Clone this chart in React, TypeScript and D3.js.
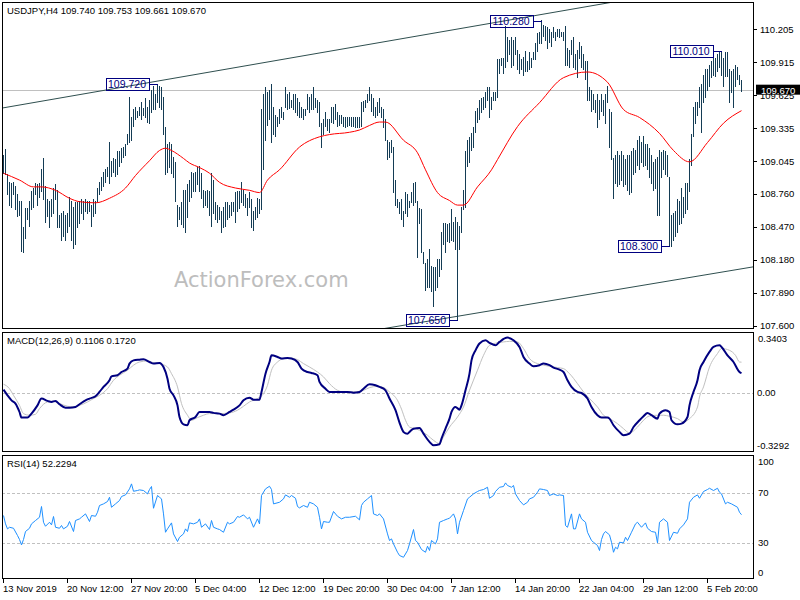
import React from "react";
import * as d3 from "d3";

const headerText = "USDJPY,H4  109.740 109.753 109.661 109.670";
const macdTitle = "MACD(12,26,9) 0.1106 0.1720";
const rsiTitle = "RSI(14) 52.2294";
const watermark = "ActionForex.com";

// H4 bars, oldest first (high / low)
const barHigh = [
  109.10,109.15,108.93,108.86,108.85,108.86,108.82,108.75,108.69,108.69,
  108.46,108.63,108.63,108.69,108.78,108.81,108.85,108.84,108.85,108.97,
  109.07,108.82,108.71,108.69,108.71,108.81,108.84,108.79,108.57,108.59,
  108.60,108.57,108.59,108.73,108.69,108.64,108.68,108.68,108.69,108.71,
  108.69,108.71,108.69,108.69,108.66,108.71,108.69,108.81,108.86,108.90,
  108.95,108.97,108.99,109.21,109.04,109.07,109.06,109.13,109.13,109.16,
  109.17,109.19,109.28,109.61,109.43,109.50,109.52,109.48,109.52,109.56,
  109.51,109.60,109.52,109.58,109.67,109.70,109.63,109.72,109.70,109.69,
  109.61,109.34,109.19,109.21,109.19,109.08,109.03,108.66,108.64,108.68,
  108.79,108.79,108.84,108.88,108.95,108.94,108.95,108.99,109.00,108.94,
  108.79,108.78,108.79,108.78,108.94,108.88,108.68,108.66,108.64,108.60,
  108.64,108.68,108.68,108.66,108.68,108.68,108.77,108.78,108.78,108.86,
  108.79,108.75,108.72,108.77,108.71,108.60,108.64,108.72,108.71,109.50,
  109.63,109.69,109.65,109.67,109.72,109.52,109.45,109.43,109.50,109.52,
  109.47,109.69,109.63,109.65,109.58,109.63,109.63,109.60,109.56,109.52,
  109.50,109.50,109.63,109.61,109.63,109.69,109.60,109.58,109.56,109.38,
  109.41,109.47,109.41,109.41,109.52,109.52,109.54,109.47,109.45,109.45,
  109.43,109.43,109.43,109.43,109.43,109.43,109.43,109.43,109.43,109.56,
  109.57,109.58,109.63,109.69,109.63,109.60,109.52,109.56,109.60,109.52,
  109.50,109.41,109.23,109.21,109.23,109.17,108.88,108.71,108.68,108.71,
  108.60,108.77,108.75,108.69,108.77,108.85,108.86,108.69,108.63,108.62,
  108.24,108.15,108.18,108.27,108.12,108.11,108.11,108.18,108.18,108.42,
  108.50,108.50,108.49,108.50,108.62,108.51,108.55,108.51,108.47,108.64,
  108.79,109.13,109.23,109.25,109.29,109.34,109.48,109.51,109.58,109.60,
  109.61,109.65,109.69,109.69,109.61,109.65,109.65,109.94,109.94,109.95,
  109.95,110.23,110.13,110.11,110.13,110.11,110.13,110.02,109.98,109.94,
  109.96,110.01,109.92,110.00,109.95,110.00,110.08,110.17,110.18,110.28,
  110.24,110.23,110.22,110.20,110.18,110.22,110.18,110.20,110.20,110.18,
  110.18,110.23,110.04,110.02,110.11,110.13,109.98,110.02,110.09,110.05,
  109.98,109.92,109.92,109.69,109.67,109.63,109.58,109.63,109.58,109.63,
  109.58,109.63,109.70,109.50,109.47,109.07,109.10,109.13,109.10,109.13,
  109.10,109.06,109.10,109.10,109.13,109.16,109.14,109.23,109.26,109.21,
  109.26,109.19,109.19,109.16,109.10,109.03,109.06,109.08,109.14,109.12,
  109.14,109.13,109.10,108.90,108.57,108.59,108.60,108.71,108.69,108.81,
  108.73,108.85,108.85,109.06,109.28,109.52,109.56,109.56,109.69,109.72,
  109.80,109.85,109.85,109.89,109.92,110.00,109.95,109.98,110.00,110.01,
  109.95,110.00,110.00,109.85,109.83,109.85,109.89,109.87,109.80,109.753,
];
const barLow = [
  108.94,108.93,108.75,108.66,108.64,108.75,108.62,108.56,108.57,108.25,
  108.24,108.37,108.53,108.47,108.62,108.64,108.75,108.66,108.73,108.78,
  108.71,108.51,108.56,108.46,108.56,108.59,108.71,108.46,108.46,108.35,
  108.38,108.35,108.42,108.47,108.35,108.28,108.31,108.46,108.50,108.59,
  108.53,108.60,108.59,108.60,108.47,108.56,108.59,108.69,108.75,108.79,
  108.82,108.86,108.91,108.85,108.91,108.95,108.91,108.93,109.00,109.03,
  109.08,109.10,109.19,109.21,109.23,109.35,109.41,109.43,109.45,109.41,
  109.45,109.43,109.39,109.38,109.47,109.50,109.50,109.56,109.52,109.50,
  109.28,108.93,108.95,108.99,108.94,108.90,108.69,108.47,108.53,108.49,
  108.46,108.42,108.55,108.69,108.73,108.78,108.78,108.84,108.78,108.72,
  108.64,108.66,108.64,108.57,108.47,108.59,108.53,108.51,108.53,108.42,
  108.46,108.47,108.53,108.55,108.57,108.60,108.51,108.60,108.63,108.68,
  108.66,108.64,108.57,108.64,108.46,108.44,108.53,108.55,108.59,108.62,
  108.97,109.23,109.36,109.41,109.21,109.28,109.26,109.35,109.38,109.43,
  109.41,109.52,109.50,109.51,109.52,109.50,109.47,109.45,109.43,109.43,
  109.41,109.45,109.50,109.47,109.50,109.50,109.52,109.47,109.35,109.17,
  109.28,109.35,109.32,109.30,109.39,109.38,109.41,109.35,109.36,109.38,
  109.35,109.34,109.35,109.36,109.35,109.35,109.34,109.34,109.34,109.35,
  109.48,109.52,109.56,109.58,109.48,109.45,109.43,109.45,109.47,109.43,
  109.34,109.23,109.06,109.08,109.12,108.77,108.66,108.64,108.59,108.53,
  108.47,108.59,108.56,108.64,108.68,108.66,108.68,108.20,108.50,108.24,
  108.15,107.91,107.94,107.94,107.90,107.77,107.91,107.94,108.03,108.09,
  108.31,108.24,108.34,108.33,108.35,108.34,108.27,107.65,108.27,108.42,
  108.62,108.64,109.00,109.03,109.14,109.17,109.30,109.39,109.41,109.47,
  109.50,109.52,109.58,109.43,109.50,109.58,109.58,109.61,109.82,109.89,
  109.82,109.87,109.92,109.98,109.87,109.89,109.98,109.85,109.82,109.85,
  109.80,109.83,109.83,109.85,109.87,109.94,109.94,110.01,110.08,110.08,
  110.14,110.11,110.04,110.09,110.05,110.13,110.11,110.14,110.13,110.14,
  110.11,109.89,109.89,109.87,109.98,109.87,109.85,109.78,109.95,109.87,
  109.85,109.76,109.58,109.58,109.48,109.50,109.47,109.34,109.41,109.48,
  109.45,109.38,109.56,109.17,109.06,108.72,108.85,108.82,108.84,108.88,
  108.82,108.84,108.79,108.75,108.77,108.93,108.95,109.01,108.97,109.03,
  109.00,109.01,108.97,108.90,108.85,108.79,108.81,108.57,108.57,108.90,
  108.97,108.93,108.91,108.30,108.30,108.35,108.38,108.42,108.49,108.50,
  108.55,108.59,108.62,108.78,109.01,109.26,109.38,109.45,109.52,109.30,
  109.56,109.61,109.67,109.70,109.78,109.80,109.79,109.83,109.87,109.80,
  109.70,109.79,109.79,109.56,109.65,109.52,109.70,109.76,109.72,109.661,
];
const lastClose = 109.670;

// moving average (red)
const maIndex = [0,8,15,19,26,33,38,46,53,61,66,73,78,81,84,90,93,98,103,108,116,123,128,132,138,148,158,163,173,178,183,188,191,200,207,211,217,223,227,230,237,244,247,257,268,280,292,302,310,318,328,335,343,352,360,369];
const maValue = [108.94,108.88,108.82,108.82,108.79,108.72,108.69,108.68,108.72,108.81,108.92,109.05,109.14,109.16,109.14,109.07,109.03,108.99,108.94,108.86,108.81,108.79,108.77,108.88,108.97,109.17,109.26,109.28,109.30,109.32,109.36,109.39,109.39,109.23,109.12,108.97,108.77,108.70,108.66,108.66,108.82,108.97,109.06,109.35,109.56,109.78,109.83,109.74,109.50,109.43,109.29,109.14,109.04,109.21,109.38,109.49];

// MACD main
const macdIndex = [0,2,4,6,8,9,12,14,17,19,22,24,26,28,31,33,36,38,41,43,46,48,50,53,54,57,59,62,63,65,68,70,73,75,78,80,82,83,85,87,88,90,92,93,96,98,100,103,105,108,110,113,115,118,120,123,125,128,129,131,133,134,137,139,142,144,147,149,152,154,157,158,161,163,166,168,172,175,178,180,183,186,188,191,193,196,198,200,202,203,205,208,210,213,215,218,219,221,223,224,226,228,229,231,233,234,236,238,241,243,246,248,252,255,258,260,263,265,268,270,273,275,278,280,282,284,287,289,292,294,297,299,302,303,305,308,310,313,315,318,320,322,324,327,328,331,333,334,337,339,342,343,345,347,348,350,353,355,358,359,362,365,368,369];
const macdValue = [0.019,-0.013,-0.041,-0.059,-0.106,-0.137,-0.137,-0.115,-0.069,-0.031,-0.044,-0.050,-0.044,-0.063,-0.082,-0.082,-0.078,-0.063,-0.041,-0.031,-0.018,0.006,0.034,0.071,0.093,0.099,0.117,0.136,0.164,0.182,0.186,0.188,0.173,0.164,0.168,0.145,0.080,0.024,-0.013,-0.069,-0.134,-0.175,-0.180,-0.152,-0.134,-0.106,-0.106,-0.106,-0.111,-0.115,-0.124,-0.106,-0.093,-0.069,-0.041,-0.026,-0.037,-0.037,0.006,0.108,0.173,0.210,0.201,0.192,0.195,0.192,0.173,0.136,0.117,0.112,0.099,0.062,0.024,0.006,0.006,0.006,0.006,0.002,0.006,0.024,0.049,0.043,0.034,0.015,-0.031,-0.096,-0.165,-0.217,-0.227,-0.217,-0.199,-0.195,-0.227,-0.273,-0.292,-0.286,-0.255,-0.199,-0.143,-0.106,-0.078,-0.093,-0.069,0.015,0.108,0.182,0.238,0.276,0.294,0.280,0.266,0.285,0.309,0.294,0.257,0.201,0.164,0.149,0.155,0.164,0.155,0.142,0.130,0.117,0.071,0.034,0.006,0.000,-0.031,-0.078,-0.124,-0.137,-0.137,-0.143,-0.180,-0.217,-0.236,-0.227,-0.190,-0.152,-0.130,-0.111,-0.124,-0.143,-0.115,-0.096,-0.106,-0.152,-0.175,-0.171,-0.134,-0.069,0.006,0.071,0.127,0.173,0.229,0.257,0.266,0.257,0.210,0.173,0.117,0.1106];

// MACD signal
const signalIndex = [0,3,5,8,10,13,16,18,22,25,28,32,35,38,42,45,48,52,55,58,62,65,68,72,75,78,82,84,87,89,92,94,97,100,103,108,113,117,120,123,127,130,132,134,137,140,143,147,150,153,157,160,163,167,170,175,180,183,187,190,193,197,199,201,203,206,208,212,215,218,220,223,227,230,233,237,240,243,247,250,253,257,260,263,267,270,273,277,280,283,287,290,293,297,300,303,307,310,313,317,320,323,327,330,333,337,340,343,347,348,350,353,357,359,363,366,368,369];
const signalValue = [0.049,0.024,-0.013,-0.069,-0.115,-0.124,-0.119,-0.087,-0.050,-0.046,-0.059,-0.074,-0.078,-0.069,-0.050,-0.031,-0.013,0.024,0.071,0.099,0.127,0.155,0.173,0.179,0.169,0.164,0.145,0.108,0.034,-0.059,-0.124,-0.152,-0.137,-0.124,-0.115,-0.115,-0.111,-0.096,-0.074,-0.050,-0.031,-0.004,0.043,0.127,0.173,0.192,0.195,0.186,0.164,0.145,0.117,0.090,0.052,0.015,0.006,0.006,0.015,0.030,0.037,0.030,0.006,-0.041,-0.090,-0.152,-0.190,-0.199,-0.208,-0.236,-0.264,-0.282,-0.245,-0.190,-0.134,-0.078,0.015,0.127,0.210,0.266,0.280,0.285,0.288,0.285,0.248,0.192,0.164,0.155,0.149,0.142,0.136,0.108,0.052,0.006,-0.031,-0.078,-0.124,-0.143,-0.171,-0.199,-0.223,-0.190,-0.152,-0.128,-0.124,-0.124,-0.130,-0.143,-0.162,-0.143,-0.078,-0.022,0.034,0.145,0.220,0.248,0.238,0.210,0.173,0.172];

// RSI(14)
const rsiIndex = [0,1,2,3,5,7,8,9,10,11,13,14,16,18,19,20,21,23,24,25,26,28,29,30,32,33,35,36,38,39,41,43,44,46,47,48,50,52,53,54,56,58,59,61,63,64,65,67,68,70,72,73,74,75,77,78,79,80,81,82,84,85,87,88,90,91,92,93,95,97,98,99,101,103,104,105,107,108,110,112,113,115,117,118,120,122,123,125,127,128,129,131,133,134,135,138,140,141,143,144,146,147,148,150,152,153,155,157,158,159,160,162,163,165,167,169,171,173,176,178,179,180,182,184,185,187,188,190,192,193,194,195,197,198,200,202,203,205,206,207,209,211,212,213,214,216,217,218,220,222,223,225,226,227,228,230,232,233,235,237,238,240,242,243,245,246,248,250,251,252,254,255,256,258,260,262,263,265,267,268,270,272,273,275,277,278,280,281,282,284,285,286,288,289,291,292,294,295,297,298,299,300,301,303,304,305,306,307,308,310,311,312,314,316,317,319,321,322,324,326,327,328,330,332,333,335,337,338,340,342,343,345,347,348,350,352,353,355,357,358,359,361,362,364,367,368,369];
const rsiValue = [51.6,44.9,40.9,42.2,41.4,35.6,32.4,28.1,32.4,38.8,41.4,44.9,47.6,50.2,58.8,46.2,43.0,46.2,44.1,50.8,42.2,41.4,43.6,40.9,43.0,46.8,38.8,47.6,48.9,50.2,52.9,46.8,51.6,51.0,54.2,59.6,60.9,62.8,66.2,58.2,60.9,63.6,66.8,68.1,72.9,76.9,71.0,71.6,72.1,71.6,68.9,72.4,74.8,57.4,67.6,66.2,64.9,52.9,38.2,40.9,45.7,36.9,30.8,34.2,36.9,40.9,38.8,45.7,44.9,46.2,48.9,42.2,44.9,40.4,47.6,42.2,40.9,40.4,38.2,46.2,44.9,46.2,50.8,50.2,52.1,48.9,50.2,42.2,48.9,44.9,67.6,72.9,75.0,72.4,60.9,62.2,64.9,68.1,66.2,67.6,65.4,58.8,57.7,59.6,58.2,62.2,60.9,58.2,50.2,40.9,46.8,46.2,46.2,54.8,51.0,48.9,50.2,50.2,51.0,48.1,59.6,62.2,64.9,67.6,52.9,51.6,52.9,48.9,36.9,31.6,32.9,28.9,22.2,19.6,18.2,23.6,28.9,40.4,31.6,30.2,24.4,22.2,27.0,23.6,31.6,28.9,32.9,46.2,47.6,48.9,49.4,52.9,48.9,36.9,46.2,55.6,64.9,66.2,68.9,70.8,71.6,72.4,74.2,65.4,67.6,70.8,74.2,74.8,77.7,75.6,74.2,75.6,68.9,63.6,60.1,62.2,64.9,66.2,70.2,72.9,72.4,71.6,67.6,68.9,67.6,68.1,67.6,43.6,42.2,52.9,40.9,40.9,52.9,48.9,46.2,38.2,31.6,30.2,27.6,23.6,32.4,36.9,38.8,36.1,30.2,22.2,26.2,24.9,30.2,29.7,34.2,31.6,38.2,44.9,46.2,42.2,45.7,41.4,38.8,38.2,29.7,46.2,48.9,46.2,31.6,38.2,37.4,40.9,44.1,48.9,62.2,66.2,68.1,65.4,70.8,72.4,73.4,71.6,73.4,70.2,68.9,60.9,62.2,60.9,58.2,54.2,52.2294];

// axes
const priceTicks = [110.205, 109.915, 109.625, 109.335, 109.045, 108.76, 108.47, 108.18, 107.89, 107.6];
const macdMax = 0.3403;
const macdMin = -0.3292;
const rsiTicks = [100, 70, 30, 0];
const rsiLevels = [70, 30];
const timeTickIndex = [0, 32, 64, 96, 128, 160, 192, 224, 256, 288, 320, 352];
const timeTickLabels = ["13 Nov 2019", "20 Nov 12:00", "27 Nov 20:00", "5 Dec 04:00", "12 Dec 12:00", "19 Dec 20:00", "30 Dec 04:00", "7 Jan 12:00", "14 Jan 20:00", "22 Jan 04:00", "29 Jan 12:00", "5 Feb 20:00"];

// swing labels
const swingIndex = [77, 269, 359, 333, 227];
const swingPrice = [109.72, 110.28, 110.01, 108.3, 107.65];

// trend channel anchors (bar index, price)
const upperIdx = [0, 300];
const upperPrice = [109.515, 110.43];
const lowerIdx = [192, 369];
const lowerPrice = [107.58, 108.1];

const FONT = "'Liberation Sans', Arial, Helvetica, sans-serif";
const BAR = "#143c55";

const L = 2, R = 754;
const MAIN = [2, 329];
const MACDP = [332, 452];
const RSIP = [455, 579];

export default function App() {
  const x = d3.scaleLinear().domain([0, barHigh.length - 1]).range([3.5, 741.5]);
  const yMain = d3.scaleLinear().domain([107.571, 110.445]).range([MAIN[1], MAIN[0]]);
  const yMacd = d3.scaleLinear().domain([macdMin, macdMax]).range([MACDP[1], MACDP[0]]);
  const yRsi = d3.scaleLinear().domain([0, 100]).range([580, 455]);

  const maLine = d3.line<number>().x((_, k) => x(maIndex[k])).y((v) => yMain(v)).curve(d3.curveMonotoneX)(maValue) || "";
  const macdLine = d3.line<number>().x((_, k) => x(macdIndex[k])).y((v) => yMacd(v)).curve(d3.curveMonotoneX)(macdValue) || "";
  const sigLine = d3.line<number>().x((_, k) => x(signalIndex[k])).y((v) => yMacd(v)).curve(d3.curveMonotoneX)(signalValue) || "";
  const rsiLine = d3.line<number>().x((_, k) => x(rsiIndex[k])).y((v) => yRsi(v))(rsiValue) || "";

  const up = d3.scaleLinear().domain(upperIdx).range(upperPrice);
  const lo = d3.scaleLinear().domain(lowerIdx).range(lowerPrice);
  const ext = [-5, 400];

  const border = (t: number, b: number, key: string) => (
    <rect key={key} x={L + 0.5} y={t + 0.5} width={R - L - 1} height={b - t - 1} fill="none" stroke="#000" strokeWidth={1} shapeRendering="crispEdges" />
  );

  return (
    <svg width={800} height={600} style={{ position: "absolute", left: 0, top: 0, background: "#fff" }} fontFamily={FONT}>
      <defs>
        <clipPath id="clipMain"><rect x={L + 1} y={MAIN[0] + 1} width={R - L - 2} height={MAIN[1] - MAIN[0] - 2} /></clipPath>
        <clipPath id="clipMacd"><rect x={L + 1} y={MACDP[0] + 1} width={R - L - 2} height={MACDP[1] - MACDP[0] - 2} /></clipPath>
        <clipPath id="clipRsi"><rect x={L + 1} y={RSIP[0] + 1} width={R - L - 2} height={RSIP[1] - RSIP[0] - 2} /></clipPath>
      </defs>
      <rect x={0} y={0} width={800} height={600} fill="#fff" />

      {/* ===== main panel ===== */}
      <text x={174} y={287} fontFamily="'DejaVu Sans', Verdana, sans-serif" fontSize={21} fill="#bdbdbd">{watermark}</text>
      <g clipPath="url(#clipMain)">
        <line x1={L} x2={R} y1={Math.round(yMain(lastClose)) + 0.5} y2={Math.round(yMain(lastClose)) + 0.5} stroke="#c0c0c0" strokeWidth={1} shapeRendering="crispEdges" />
        <line x1={x(ext[0])} x2={x(ext[1])} y1={yMain(up(ext[0]))} y2={yMain(up(ext[1]))} stroke="#2f4f4f" strokeWidth={1} />
        <line x1={x(ext[0])} x2={x(ext[1])} y1={yMain(lo(ext[0]))} y2={yMain(lo(ext[1]))} stroke="#2f4f4f" strokeWidth={1} />
        <g stroke={BAR} strokeWidth={1} shapeRendering="crispEdges">
          {barHigh.map((h, i) => (
            <line key={i} x1={x(i)} x2={x(i)} y1={yMain(h) - 0.5} y2={yMain(barLow[i]) + 0.5} />
          ))}
        </g>
        <path d={maLine} fill="none" stroke="#ff0000" strokeWidth={1} />
        {swingIndex.map((bi, k) => {
          const bx = x(bi);
          const by = yMain(swingPrice[k]);
          const right = bx - 9;
          return (
            <g key={k}>
              <line x1={right} x2={bx} y1={Math.round(by) + 0.5} y2={Math.round(by) + 0.5} stroke="#000080" strokeWidth={1} shapeRendering="crispEdges" />
              <rect x={Math.round(right - 43) + 0.5} y={Math.round(by - 6) + 0.5} width={43} height={12} fill="none" stroke="#000080" strokeWidth={1} shapeRendering="crispEdges" />
              <text x={right - 21.5} y={by + 4} textAnchor="middle" fontSize={10.5} fill="#000080">{swingPrice[k].toFixed(3)}</text>
            </g>
          );
        })}
      </g>
      <text x={7} y={13.5} fontSize={9.5} fill="#000">{headerText}</text>
      {border(MAIN[0], MAIN[1], "bm")}
      {priceTicks.map((p) => (
        <g key={p}>
          <line x1={R} x2={R + 3} y1={Math.round(yMain(p)) + 0.5} y2={Math.round(yMain(p)) + 0.5} stroke="#000" shapeRendering="crispEdges" />
          <text x={760} y={yMain(p) + 3.4} fontSize={9.5} fill="#000">{p.toFixed(3)}</text>
        </g>
      ))}
      <rect x={756} y={yMain(lastClose) - 5.5} width={44} height={10} fill="#000" />
      <text x={761} y={yMain(lastClose) + 3.4} fontSize={9.5} fill="#fff">{lastClose.toFixed(3)}</text>

      {/* ===== MACD panel ===== */}
      <line x1={L} x2={R} y1={Math.round(yMacd(0)) + 0.5} y2={Math.round(yMacd(0)) + 0.5} stroke="#c0c0c0" strokeDasharray="3,2" shapeRendering="crispEdges" />
      <g clipPath="url(#clipMacd)">
        <path d={sigLine} fill="none" stroke="#c0c0c0" strokeWidth={1} />
        <path d={macdLine} fill="none" stroke="#000080" strokeWidth={2} />
      </g>
      <text x={7} y={343.5} fontSize={9.5} fill="#000">{macdTitle}</text>
      {border(MACDP[0], MACDP[1], "bmacd")}
      <text x={758} y={yMacd(macdMax) + 6.3 + 3.4} fontSize={9.5} fill="#000">{macdMax.toFixed(4)}</text>
      <text x={757} y={yMacd(0) + 3.4} fontSize={9.5} fill="#000">{(0).toFixed(2)}</text>
      <text x={757} y={yMacd(macdMin) - 6.3 + 3.4} fontSize={9.5} fill="#000">{macdMin.toFixed(4)}</text>

      {/* ===== RSI panel ===== */}
      {rsiLevels.map((lv) => (
        <line key={lv} x1={L} x2={R} y1={Math.round(yRsi(lv)) + 0.5} y2={Math.round(yRsi(lv)) + 0.5} stroke="#c0c0c0" strokeDasharray="3,2" shapeRendering="crispEdges" />
      ))}
      <g clipPath="url(#clipRsi)">
        <path d={rsiLine} fill="none" stroke="#1e90ff" strokeWidth={1} />
      </g>
      <text x={7} y={467} fontSize={9.5} fill="#000">{rsiTitle}</text>
      {border(RSIP[0], RSIP[1], "brsi")}
      {rsiTicks.map((t) => {
        const yy = t === 100 ? yRsi(t) + 6.3 : t === 0 ? yRsi(t) - 7.3 : yRsi(t);
        return <text key={t} x={758} y={yy + 3.4} fontSize={9.5} fill="#000">{t}</text>;
      })}

      {/* ===== time axis ===== */}
      {timeTickIndex.map((ti, k) => (
        <g key={ti}>
          <line x1={x(ti)} x2={x(ti)} y1={RSIP[1]} y2={RSIP[1] + 4} stroke="#000" shapeRendering="crispEdges" />
          <text x={x(ti) - 0.5} y={591.5} fontSize={9.5} fill="#000">{timeTickLabels[k]}</text>
        </g>
      ))}
    </svg>
  );
}
